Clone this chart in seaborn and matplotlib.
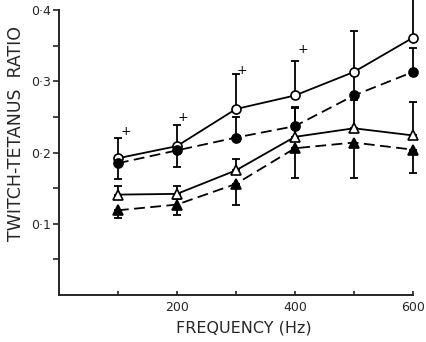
import numpy as np
import matplotlib
matplotlib.use("Agg")
import matplotlib.pyplot as plt
import seaborn as sns

# Values
freq = [100, 200, 300, 400, 500, 600]

open_circle = [0.192, 0.209, 0.261, 0.280, 0.313, 0.361]
open_circle_lo = [0, 0, 0, 0, 0, 0]
open_circle_hi = [0.028, 0.030, 0.049, 0.048, 0.058, 0.060]

closed_circle = [0.185, 0.203, 0.221, 0.237, 0.280, 0.313]
closed_circle_lo = [0.022, 0.023, 0, 0, 0, 0]
closed_circle_hi = [0, 0, 0.029, 0.027, 0.030, 0.034]

open_tri = [0.141, 0.142, 0.175, 0.222, 0.234, 0.224]
open_tri_lo = [0, 0, 0, 0, 0, 0]
open_tri_hi = [0.012, 0.011, 0.016, 0.040, 0.040, 0.047]

closed_tri = [0.119, 0.127, 0.156, 0.206, 0.214, 0.204]
closed_tri_lo = [0.011, 0.015, 0.029, 0.042, 0.050, 0.033]
closed_tri_hi = [0, 0.008, 0, 0, 0, 0]

# significance marks
plus_x = [114, 210, 311, 413]
plus_y = [0.229, 0.249, 0.315, 0.345]

ytick_vals = [0.1, 0.2, 0.3, 0.4]
ytick_labels = ["0·1", "0·2", "0·3", "0·4"]
xtick_vals = [100, 200, 300, 400, 500, 600]
xtick_labels = ["", "200", "", "400", "", "600"]

sns.set_style("ticks")
plt.rcParams['font.family'] = ['DejaVu Sans']

fig = plt.figure(figsize=(4.27, 3.42), dpi=100)
ax = fig.add_axes([0.138, 0.137, 0.829, 0.834])

series = [
    (open_circle, open_circle_lo, open_circle_hi, "o", "white", "-"),
    (closed_circle, closed_circle_lo, closed_circle_hi, "o", "black", (0, (6, 3))),
    (open_tri, open_tri_lo, open_tri_hi, "^", "white", "-"),
    (closed_tri, closed_tri_lo, closed_tri_hi, "^", "black", (0, (6, 3))),
]

for vals, lo, hi, mk, fc, ls in series:
    # error bars first so the markers sit on top of the caps
    for i in range(len(freq)):
        if lo[i] == 0 and hi[i] == 0:
            continue
        eb = ax.errorbar([freq[i]], [vals[i]], yerr=[[lo[i]], [hi[i]]], fmt="none",
                         ecolor="black", elinewidth=1.3, capsize=2.6, capthick=1.3,
                         zorder=2)
        for art in eb.lines[1] + eb.lines[2]:
            art.set_clip_on(False)
    sns.lineplot(x=freq, y=vals, ax=ax, color="black", linewidth=1.3,
                 linestyle=ls, marker=mk, markersize=6.5, markerfacecolor=fc,
                 markeredgecolor="black", markeredgewidth=1.2, zorder=3,
                 clip_on=False)

for px, py in zip(plus_x, plus_y):
    ax.text(px, py, "+", ha="center", va="center", fontsize=9, color="black")

ax.set_xlim(0, 600)
ax.set_ylim(0, 0.4)
ax.set_xticks(xtick_vals)
ax.set_xticklabels(xtick_labels, fontsize=9)
ax.set_yticks(ytick_vals)
ax.set_yticklabels(ytick_labels, fontsize=9)
ax.set_yticks([0.05, 0.15, 0.25, 0.35], minor=True)
ax.tick_params(axis="y", which="both", direction="out", length=4, width=1.2, pad=1.5)
ax.tick_params(axis="x", which="both", direction="in", length=3, width=1.2, pad=4)
sns.despine(ax=ax)
ax.spines["left"].set_linewidth(1.4)
ax.spines["bottom"].set_linewidth(1.4)
ax.set_xlabel("")
ax.set_ylabel("")

fig.text(0.037, 0.61, "TWITCH-TETANUS  RATIO", rotation=90, ha="center",
         va="center", fontsize=12.5)
fig.text(0.571, 0.041, "FREQUENCY (Hz)", ha="center", va="center", fontsize=11.5)

fig.savefig("out.png", dpi=100)
